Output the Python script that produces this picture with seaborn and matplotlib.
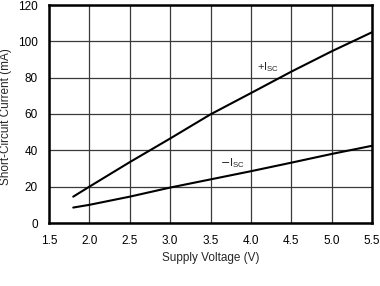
import matplotlib
matplotlib.use("Agg")
import matplotlib.pyplot as plt
import seaborn as sns
import pandas as pd

voltage = [1.8, 2.0, 2.5, 3.0, 3.5, 4.0, 4.5, 5.0, 5.5]
isc_pos = [14.5, 20, 33.5, 46.5, 59.8, 71.5, 83.3, 94.5, 105]
isc_neg = [8.5, 10, 14.5, 19.5, 24, 28.5, 33.2, 38, 42.5]
xticks = [1.5, 2.0, 2.5, 3.0, 3.5, 4.0, 4.5, 5.0, 5.5]
yticks = [0, 20, 40, 60, 80, 100, 120]

sns.set_style("white")
plt.rcParams['font.family'] = ['Liberation Sans', 'DejaVu Sans']

df = pd.DataFrame({"V": voltage * 2,
                   "I": isc_pos + isc_neg,
                   "s": ["+"] * len(voltage) + ["-"] * len(voltage)})

fig = plt.figure(figsize=(3.8, 2.86), dpi=100)
ax = fig.add_axes([49/380, 1 - 223/286, (372-49)/380, (223-5)/286])
sns.lineplot(data=df, x="V", y="I", units="s", estimator=None, color="black",
             lw=1.5, ax=ax, legend=False)
ax.set_xlim(1.5, 5.5)
ax.set_ylim(0, 120)
ax.set_xticks(xticks)
ax.set_xticklabels([f"{v:.1f}" for v in xticks])
ax.set_yticks(yticks)
ax.grid(True, color="#3a3a3a", lw=0.9)
for s in ax.spines.values():
    s.set_color("black")
    s.set_linewidth(1.8)
ax.tick_params(axis="both", length=0, labelsize=8.5, colors="black")
ax.tick_params(axis="x", pad=9)
ax.tick_params(axis="y", pad=8)
ax.set_xlabel("Supply Voltage (V)", fontsize=8.5)
ax.set_ylabel("Short-Circuit Current (mA)", fontsize=8.5)
ax.xaxis.label.set_va("center")
ax.yaxis.label.set_va("center")
ax.xaxis.set_label_coords(0.5, -0.16)
ax.yaxis.set_label_coords(-0.132, 0.49)
ax.text(4.08, 86, r"+I$_{\mathregular{SC}}$", fontsize=8, ha="left", va="center")
ax.text(3.62, 33, r"$-$I$_{\mathregular{SC}}$", fontsize=8, ha="left", va="center")
fig.savefig("out.png", dpi=100)
